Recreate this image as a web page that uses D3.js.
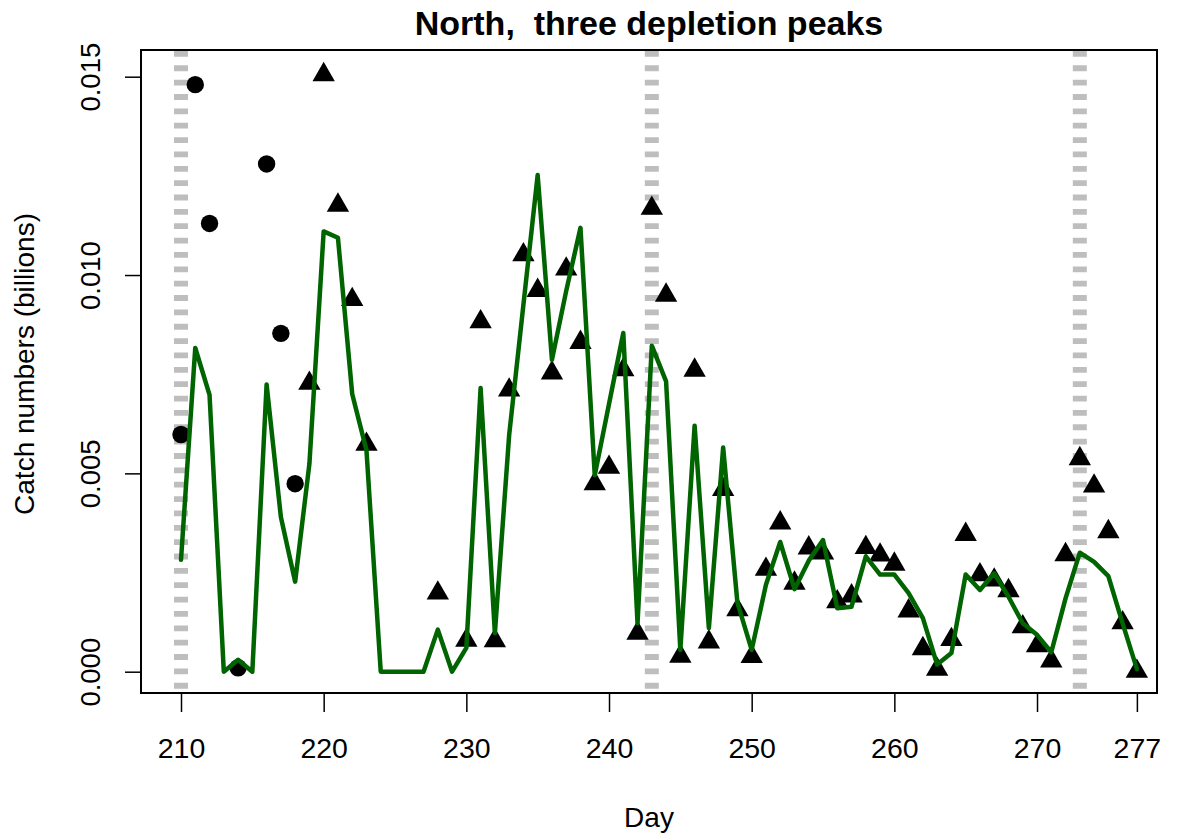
<!DOCTYPE html>
<html>
<head>
<meta charset="utf-8">
<script src="https://cdn.jsdelivr.net/npm/d3@7"></script>
<style>
  body { margin: 0; background: #fff; }
  text { font-family: "Liberation Sans", Arial, Helvetica, sans-serif; }
</style>
</head>
<body>
<div id="chart"></div>
<script>
// Observed catches: early days (circles) and later days (triangles)
const circleDays = [210, 211, 212, 214, 216, 217, 218];
const circleCatch = [0.00598, 0.0148, 0.0113, 0.0001, 0.0128, 0.00853, 0.00474];

const triangleDays = [219, 220, 221, 222, 223, 228, 230, 231, 232, 233, 234, 235, 236, 237, 238,
  239, 240, 241, 242, 243, 244, 245, 246, 247, 248, 249, 250, 251, 252, 253, 254, 255, 256, 257,
  258, 259, 260, 261, 262, 263, 264, 265, 266, 267, 268, 269, 270, 271, 272, 273, 274, 275, 276, 277];
const triangleCatch = [0.00727, 0.01505, 0.01176, 0.00938, 0.00573, 0.00198, 0.00079, 0.00882, 0.00078,
  0.0071, 0.01051, 0.00961, 0.00753, 0.01015, 0.0083, 0.00474, 0.00515, 0.00761, 0.00097, 0.01168,
  0.00949, 0.00039, 0.0076, 0.00075, 0.00459, 0.00156, 0.00038, 0.00258, 0.00375, 0.00223, 0.00312,
  0.00299, 0.00176, 0.00191, 0.00313, 0.00294, 0.00271, 0.00153, 0.00058, 0.00006, 0.00081, 0.00346,
  0.00244, 0.00231, 0.00204, 0.00113, 0.00065, 0.00027, 0.00295, 0.00537, 0.00468, 0.00353, 0.00123,
  0.00001];

// Model predicted catch (green line), one value per day 210..277
const modelDays = [210, 211, 212, 213, 214, 215, 216, 217, 218, 219, 220, 221, 222, 223, 224, 225,
  226, 227, 228, 229, 230, 231, 232, 233, 234, 235, 236, 237, 238, 239, 240, 241, 242, 243, 244, 245,
  246, 247, 248, 249, 250, 251, 252, 253, 254, 255, 256, 257, 258, 259, 260, 261, 262, 263, 264, 265,
  266, 267, 268, 269, 270, 271, 272, 273, 274, 275, 276, 277];
const modelCatch = [0.00282, 0.00816, 0.00698, 0, 0.0003, 0, 0.00724, 0.0039, 0.00227, 0.00524,
  0.0111, 0.01094, 0.0070, 0.00558, 0, 0, 0, 0, 0.00106, 0, 0.0006, 0.00715, 0.00097, 0.00596,
  0.00925, 0.01252, 0.00786, 0.0096, 0.01119, 0.00495, 0.00675, 0.00854, 0.00122, 0.00822, 0.00732,
  0.00055, 0.0062, 0.0011, 0.00565, 0.00174, 0.00055, 0.00219, 0.00327, 0.00208, 0.0028, 0.00332,
  0.0016, 0.00164, 0.00291, 0.00245, 0.00245, 0.00198, 0.00135, 0.00018, 0.00047, 0.00245, 0.00206,
  0.00248, 0.00189, 0.00122, 0.00093, 0.00049, 0.00185, 0.003, 0.00277, 0.00241, 0.00122, 0.00007];

// Depletion peak days (grey dashed lines)
const peakDays = [210, 243, 273];

const xTicks = [210, 220, 230, 240, 250, 260, 270, 277];
const yTicks = [0, 0.005, 0.010, 0.015];

const titleText = "North,  three depletion peaks";
const xLabel = "Day";
const yLabel = "Catch numbers (billions)";

const width = 1177;
const height = 839;
const plot = { left: 141, right: 1157, top: 50, bottom: 693 };

const svg = d3.select("#chart")
  .append("svg")
  .attr("width", width)
  .attr("height", height);

const x = d3.scaleLinear()
  .domain([207.196, 278.41])
  .range([plot.left, plot.right]);

const y = d3.scaleLinear()
  .domain([-0.000537, 0.015673])
  .range([plot.bottom, plot.top]);

svg.append("clipPath").attr("id", "clip")
  .append("rect")
  .attr("x", plot.left).attr("y", plot.top)
  .attr("width", plot.right - plot.left)
  .attr("height", plot.bottom - plot.top);

const inner = svg.append("g").attr("clip-path", "url(#clip)");

// grey dashed vertical lines
inner.selectAll(".peak")
  .data(peakDays)
  .enter().append("line")
  .attr("class", "peak")
  .attr("x1", d => x(d))
  .attr("x2", d => x(d))
  .attr("y1", plot.top + 1)
  .attr("y2", plot.bottom + 10)
  .attr("stroke", "#bebebe")
  .attr("stroke-width", 14)
  .attr("stroke-dasharray", "5.8,8.56");

// circles
const circles = circleDays.map((d, i) => ({ day: d, value: circleCatch[i] }));
inner.selectAll(".obs-circle")
  .data(circles)
  .enter().append("circle")
  .attr("class", "obs-circle")
  .attr("cx", d => x(d.day))
  .attr("cy", d => y(d.value))
  .attr("r", 8.7)
  .attr("fill", "#000");

// triangles (centroid at the data point, like R's pch 17)
const triangles = triangleDays.map((d, i) => ({ day: d, value: triangleCatch[i] }));
const R = 8.3;
const tr = 1.5551 * R, tw = 1.3468 * R, tb = 0.7776 * R;
inner.selectAll(".obs-tri")
  .data(triangles)
  .enter().append("path")
  .attr("class", "obs-tri")
  .attr("d", d => {
    const cx = x(d.day), cy = y(d.value);
    return `M${cx},${cy - tr}L${cx + tw},${cy + tb}L${cx - tw},${cy + tb}Z`;
  })
  .attr("fill", "#000");

// model line
const model = modelDays.map((d, i) => ({ day: d, value: modelCatch[i] }));
inner.append("path")
  .datum(model)
  .attr("d", d3.line().x(d => x(d.day)).y(d => y(d.value)))
  .attr("fill", "none")
  .attr("stroke", "#006400")
  .attr("stroke-width", 4.5)
  .attr("stroke-linejoin", "round")
  .attr("stroke-linecap", "round");

// box
svg.append("rect")
  .attr("x", plot.left).attr("y", plot.top)
  .attr("width", plot.right - plot.left)
  .attr("height", plot.bottom - plot.top)
  .attr("fill", "none")
  .attr("stroke", "#000")
  .attr("stroke-width", 2);

// x axis
const xAxis = svg.append("g")
  .attr("transform", `translate(0,${plot.bottom})`)
  .call(d3.axisBottom(x).tickValues(xTicks).tickSize(19).tickPadding(26).tickFormat(d3.format("d")));
xAxis.select(".domain").remove();
xAxis.selectAll(".tick line").attr("stroke", "#000").attr("stroke-width", 1.5);
xAxis.selectAll(".tick text")
  .attr("fill", "#000")
  .style("font-size", "28.5px")
  .style("font-family", "'Liberation Sans', Arial, sans-serif");

// y axis
const yAxis = svg.append("g")
  .attr("transform", `translate(${plot.left},0)`)
  .call(d3.axisLeft(y).tickValues(yTicks).tickSize(16).tickFormat(d3.format(".3f")));
yAxis.select(".domain").remove();
yAxis.selectAll(".tick line").attr("stroke", "#000").attr("stroke-width", 1.5);
yAxis.selectAll(".tick text")
  .attr("fill", "#000")
  .attr("x", -41)
  .attr("dy", null)
  .attr("text-anchor", "middle")
  .attr("transform", "rotate(-90,-41,0)")
  .style("font-size", "27.5px")
  .style("font-family", "'Liberation Sans', Arial, sans-serif");

// title and axis labels
svg.append("text")
  .attr("x", (plot.left + plot.right) / 2)
  .attr("y", 35)
  .attr("text-anchor", "middle")
  .attr("xml:space", "preserve")
  .style("white-space", "pre")
  .style("font-size", "34px")
  .style("font-weight", "bold")
  .text(titleText);

svg.append("text")
  .attr("x", (plot.left + plot.right) / 2)
  .attr("y", 827)
  .attr("text-anchor", "middle")
  .style("font-size", "28px")
  .text(xLabel);

svg.append("text")
  .attr("transform", `translate(34,364) rotate(-90)`)
  .attr("text-anchor", "middle")
  .style("font-size", "28px")
  .text(yLabel);
</script>
</body>
</html>
